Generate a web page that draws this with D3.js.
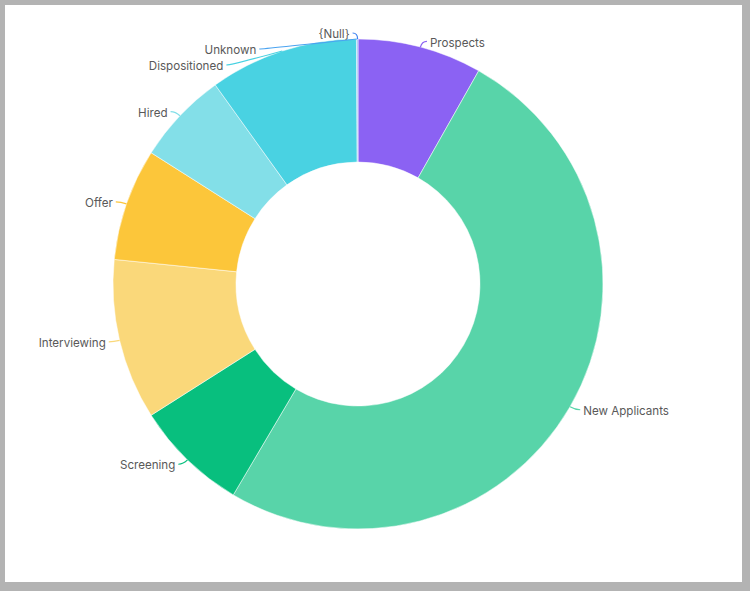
<!DOCTYPE html>
<html>
<head>
<meta charset="utf-8">
<script src="https://cdn.jsdelivr.net/npm/d3@7"></script>
<style>
  html, body { margin: 0; padding: 0; background: #b3b3b3; }
  #chart { position: absolute; left: 5px; top: 5px; width: 737px; height: 577px; background: #fff; }
  svg { display: block; }
</style>
</head>
<body>
<div id="chart"></div>
<script>
// pipeline stages, clockwise from 12 o'clock
const stages = ["Prospects", "New Applicants", "Screening", "Interviewing", "Offer", "Hired", "Dispositioned", "Unknown", "{Null}"];
const counts = [164, 1006, 150, 212, 148, 122, 196, 1, 1];
const colors = ["#8b62f3", "#58d4a9", "#08bf7e", "#fad87a", "#fcc63a", "#83dfe8", "#49d2e2", "#4aa3f0", "#3b7ff0"];

const width = 737, height = 577;
const cx = 353, cy = 279;
const outerR = 245, innerR = 122;

const svg = d3.select("#chart").append("svg").attr("width", width).attr("height", height);
const g = svg.append("g").attr("transform", `translate(${cx},${cy})`);

const data = stages.map((s, i) => ({ name: s, value: counts[i], color: colors[i] }));

const pie = d3.pie().value(d => d.value).sort(null);
const arc = d3.arc().innerRadius(innerR).outerRadius(outerR);
const arcs = pie(data);

g.selectAll("path.slice")
  .data(arcs)
  .enter().append("path")
    .attr("class", "slice")
    .attr("d", arc)
    .attr("fill", d => d.data.color)
    .attr("stroke", "#fff")
    .attr("stroke-width", 0.5);

// label layout: push overlapping labels down, like echarts does
const labelR = outerR + 6;
const bendR = outerR + 8;
const gap = 16;
const labels = arcs.map(d => {
  const a = (d.startAngle + d.endAngle) / 2;
  return {
    d: d,
    a: a,
    side: Math.sin(a) >= 0 ? 1 : -1,
    x: Math.sin(a) * labelR,
    y: -Math.cos(a) * labelR,
    ex: Math.sin(a) * outerR,
    ey: -Math.cos(a) * outerR
  };
});

[1, -1].forEach(side => {
  const list = labels.filter(l => l.side === side).sort((p, q) => p.y - q.y);
  for (let i = 1; i < list.length; i++) {
    const prev = list[i - 1], cur = list[i];
    if (cur.y - prev.y < gap) {
      cur.y = prev.y + gap;
      if (Math.abs(cur.y) < bendR) cur.x = side * Math.sqrt(bendR * bendR - cur.y * cur.y);
    }
  }
});

const lab = g.selectAll("g.label").data(labels).enter().append("g").attr("class", "label");

lab.append("path")
  .attr("d", l => `M${l.ex},${l.ey}Q${l.x},${l.y} ${l.x + l.side * 5},${l.y}`)
  .attr("fill", "none")
  .attr("stroke", l => l.d.data.color)
  .attr("stroke-width", 1.2);

lab.append("text")
  .attr("x", l => l.x + l.side * 8)
  .attr("y", l => l.y)
  .attr("dy", "0.45em")
  .attr("text-anchor", l => l.side > 0 ? "start" : "end")
  .attr("font-family", "Inter, 'Noto Sans', sans-serif")
  .attr("font-size", 11.6)
  .attr("fill", "#595959")
  .text(l => l.d.data.name);
</script>
</body>
</html>
